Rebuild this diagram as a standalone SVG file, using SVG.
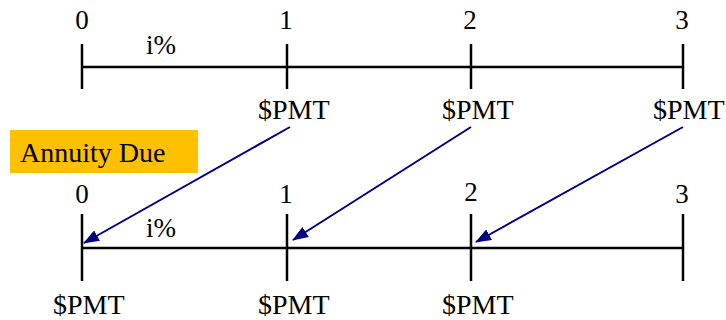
<svg xmlns="http://www.w3.org/2000/svg" width="726" height="320" viewBox="0 0 726 320">
<defs>
<marker id="ah" markerWidth="16" markerHeight="12" refX="15" refY="6" orient="auto" markerUnits="userSpaceOnUse">
<path d="M0,0 L16,6 L0,12 Z" fill="#000080"/>
</marker>
</defs>
<rect width="726" height="320" fill="#fff"/>
<g id="timeline-top" stroke="#000" stroke-width="2.5" fill="none">
<line x1="82" y1="67" x2="683" y2="67"/>
<line x1="82" y1="44" x2="82" y2="89"/>
<line x1="287" y1="44" x2="287" y2="89"/>
<line x1="471" y1="44" x2="471" y2="89"/>
<line x1="683" y1="44" x2="683" y2="89"/>
</g>
<g id="labels-top" font-family="Liberation Serif, serif" fill="#000">
<g font-size="27px" text-anchor="middle">
<text x="82" y="29">0</text>
<text x="286" y="29">1</text>
<text x="470" y="29">2</text>
<text x="682" y="29">3</text>
</g>
<text x="146" y="54" font-size="27px">i%</text>
<g font-size="28px">
<text x="258" y="119">$PMT</text>
<text x="442" y="119">$PMT</text>
<text x="653" y="119">$PMT</text>
</g>
</g>
<g id="label-annuity-due">
<rect x="10" y="130" width="188" height="43" fill="#FFC000"/>
<text x="20" y="162" font-family="Liberation Serif, serif" font-size="28px" fill="#000">Annuity Due</text>
</g>
<g id="timeline-bottom" stroke="#000" stroke-width="2.5" fill="none">
<line x1="82" y1="248" x2="683" y2="248"/>
<line x1="82" y1="214" x2="82" y2="281"/>
<line x1="287" y1="214" x2="287" y2="281"/>
<line x1="471" y1="214" x2="471" y2="281"/>
<line x1="683" y1="214" x2="683" y2="281"/>
</g>
<g id="labels-bottom" font-family="Liberation Serif, serif" fill="#000">
<g font-size="27px" text-anchor="middle">
<text x="82" y="203">0</text>
<text x="286" y="203">1</text>
<text x="471" y="201">2</text>
<text x="682" y="203">3</text>
</g>
<text x="146" y="237" font-size="27px">i%</text>
<g font-size="28px">
<text x="53" y="314">$PMT</text>
<text x="258" y="314">$PMT</text>
<text x="442" y="314">$PMT</text>
</g>
</g>
<g id="connectors" stroke="#000080" stroke-width="2" fill="none" marker-end="url(#ah)">
<line x1="290" y1="127" x2="84" y2="243"/>
<line x1="471" y1="127" x2="293" y2="240"/>
<line x1="683" y1="127" x2="476" y2="242"/>
</g>
</svg>
